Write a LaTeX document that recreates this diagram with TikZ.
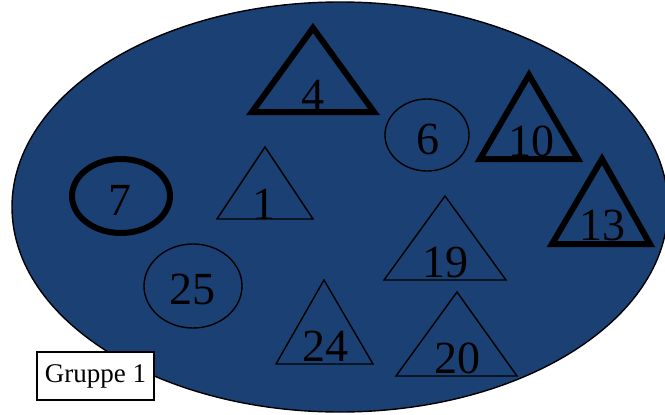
\documentclass[tikz,border=0pt]{standalone}
\usepackage{fontspec}
\setmainfont{Liberation Serif}
\definecolor{groupblue}{RGB}{27,64,115}

\begin{document}
\begin{tikzpicture}[x=1pt,y=-1pt]
  \tikzset{
    group/.style={draw=black,line width=1.4pt,fill=groupblue},
    member/.style={draw=black,line width=1.4pt,line join=miter},
    leader/.style={draw=black,line width=6pt,line join=miter},
    num/.style={anchor=base,inner sep=0pt,font=\fontsize{46}{46}\selectfont},
    tag/.style={draw=black,line width=1.2pt,fill=white,inner sep=0pt,
      minimum width=117pt,minimum height=48pt,font=\fontsize{27}{27}\selectfont}
  }
  \useasboundingbox (0,0) rectangle (665,415);

  % group
  \draw[group] (340,207) ellipse [x radius=328pt,y radius=205pt];

  % leaders
  \draw[leader] (252,112) -- (313,28) -- (374,112) -- cycle;
  \node[num] (l4) at (313,110) {4};
  \draw[leader] (480,159) -- (529,75) -- (578,159) -- cycle;
  \node[num] (l10) at (531,156) {10};
  \draw[leader] (552,244) -- (602,159) -- (650,244) -- cycle;
  \node[num] (l13) at (602,240) {13};
  \draw[leader] (121,196) ellipse [x radius=49pt,y radius=37pt];
  \node[num] (l7) at (120,215) {7};

  % members
  \draw[member] (217,219) -- (265,147) -- (313,219) -- cycle;
  \node[num] (m1) at (264,219) {1};
  \draw[member] (384,280) -- (445,196) -- (506,280) -- cycle;
  \node[num] (m19) at (445,277) {19};
  \draw[member] (276,364) -- (324,280) -- (373,364) -- cycle;
  \node[num] (m24) at (325,361) {24};
  \draw[member] (396,376) -- (457,292) -- (517,376) -- cycle;
  \node[num] (m20) at (457,373) {20};
  \draw[member] (427,135) ellipse [x radius=42pt,y radius=36pt];
  \node[num] (m6) at (428,154) {6};
  \draw[member] (193,286) ellipse [x radius=49pt,y radius=42pt];
  \node[num] (m25) at (192,304) {25};

  \node[tag] (g1) at (95.5,376) {Gruppe 1};
\end{tikzpicture}
\end{document}
